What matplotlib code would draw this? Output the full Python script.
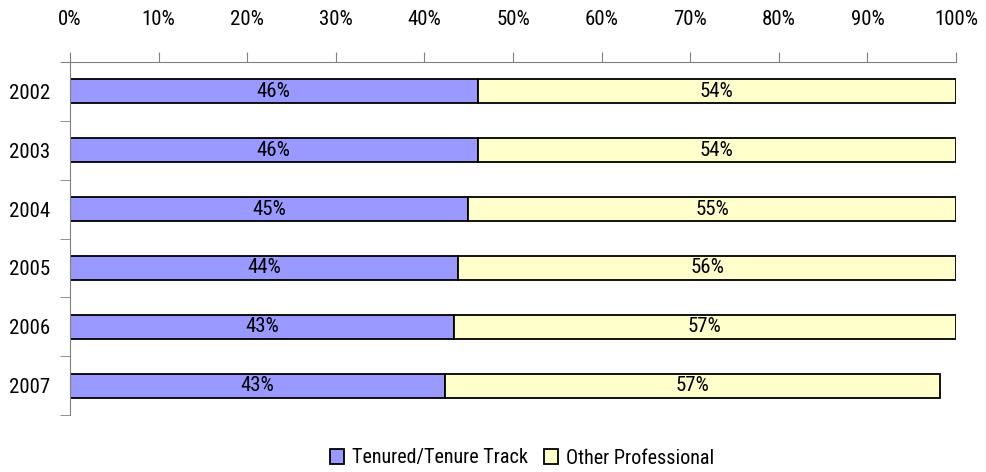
import matplotlib
matplotlib.use("Agg")
import matplotlib.pyplot as plt
import numpy as np

years = ["2002", "2003", "2004", "2005", "2006", "2007"]
tenured = [46.0, 46.0, 44.9, 43.8, 43.3, 42.3]
other = [54.0, 54.0, 55.1, 56.2, 56.7, 55.9]
tenured_labels = ["46%", "46%", "45%", "44%", "43%", "43%"]
other_labels = ["54%", "54%", "55%", "56%", "57%", "57%"]
series_names = ["Tenured/Tenure Track", "Other Professional"]
xticks = list(range(0, 101, 10))

plt.rcParams['font.family'] = ['Roboto Condensed', 'Archivo Narrow', 'DejaVu Sans']
FS = 15

fig = plt.figure(figsize=(9.86, 4.72), dpi=100)
W, H = 986, 472
ax = fig.add_axes([70 / W, 1 - 415 / H, (956 - 70) / W, (415 - 62) / H])

y = np.arange(len(years))
h = 0.41
b1 = ax.barh(y, tenured, height=h, color="#9999FF", edgecolor="black", linewidth=1.3,
             label=series_names[0])
b2 = ax.barh(y, other, left=tenured, height=h, color="#FFFFCC", edgecolor="black", linewidth=1.3,
             label=series_names[1])
for i in range(len(years)):
    ax.text(tenured[i] / 2, y[i], tenured_labels[i], ha="center", va="center", fontsize=FS)
    ax.text(tenured[i] + other[i] / 2, y[i], other_labels[i], ha="center", va="center", fontsize=FS)

ax.set_xlim(0, 100)
ax.set_ylim(len(years) - 0.5, -0.5)
ax.xaxis.tick_top()
ax.set_xticks(xticks)
ax.set_xticklabels([f"{v}%" for v in xticks])
ax.tick_params(axis="x", direction="out", length=7, color="#808080", pad=17, labelsize=FS)
ax.set_yticks(y)
ax.set_yticklabels(years)
ax.set_yticks(np.arange(-0.5, len(years)), minor=True)
ax.tick_params(axis="y", which="major", length=0, pad=14.5, labelsize=FS)
ax.tick_params(axis="y", which="minor", direction="out", length=7, color="#808080")

for s in ["right", "bottom"]:
    ax.spines[s].set_visible(False)
ax.spines["top"].set_color("#808080")
ax.spines["left"].set_color("#808080")
ax.spines["top"].set_bounds(-0.9, 100)

fig.legend(handles=[b1, b2], labels=series_names, loc="center", bbox_to_anchor=(522 / W, 1 - 458 / H),
           ncol=2, frameon=False, fontsize=14.5, handlelength=0.7, handleheight=0.7,
           handletextpad=0.4, columnspacing=0.8)

fig.savefig("out.png", dpi=100)
